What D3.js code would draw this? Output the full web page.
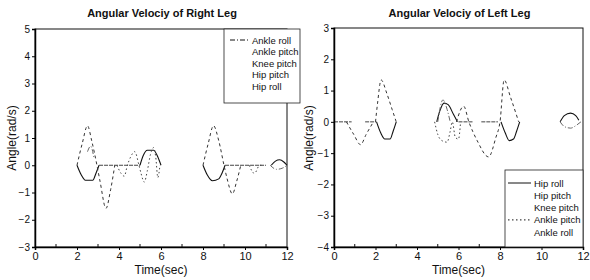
<!DOCTYPE html>
<html>
<head>
<meta charset="utf-8">
<script src="https://cdn.jsdelivr.net/npm/d3@7"></script>
<style>
  body { margin: 0; background: #fff; }
  text { font-family: "Liberation Sans", Arial, sans-serif; fill: #111; }
</style>
</head>
<body>
<div id="chart"></div>
<script>
// series, [time (s), angular velocity (rad/s)], null = gap
var seriesNames = ["Hip roll", "Hip pitch", "Knee pitch", "Ankle pitch", "Ankle roll"];

var rightHipRoll = [[2.0,0],[2.2,-0.35],[2.4,-0.55],[2.75,-0.55],[2.9,-0.3],[3.05,0],null,
  [5.0,0],[5.15,0.35],[5.35,0.55],[5.65,0.55],[5.85,0.3],[6.0,0],null,
  [8.0,0],[8.2,-0.35],[8.45,-0.57],[8.75,-0.5],[8.9,-0.3],[9.05,0],null,
  [11.25,0],[11.45,0.15],[11.65,0.2],[11.85,0.12],[12.0,0]];
var rightHipPitch = [[3.05,0],[5.0,0],null,[9.05,0],[11.0,0]];
var rightKneePitch = [[2.0,0],[2.25,0.8],[2.5,1.45],[2.7,0.9],[2.95,0],[3.1,-0.6],[3.38,-1.58],[3.6,-0.9],[3.8,0],null,
  [8.0,0],[8.25,0.8],[8.5,1.45],[8.75,0.9],[9.0,0],[9.15,-0.5],[9.4,-1.05],[9.6,-0.6],[9.8,0]];
var rightAnklePitch = [[3.9,0],[4.1,-0.3],[4.25,-0.4],[4.4,0],[4.55,0.3],[4.75,0.5],[4.95,0],[5.05,-0.3],[5.2,-0.62],[5.35,-0.2],
  [5.5,0.4],[5.65,0.65],[5.75,0.3],[5.85,-0.45],[5.95,0],null,
  [10.2,0],[10.45,-0.3],[10.7,0],[10.9,0]];
var rightAnkleRoll = [[2.5,0.5],[2.65,0.7],[2.8,0.3],null,[11.2,0],[11.5,-0.15],[11.8,-0.1],[12.0,0]];

var leftHipRoll = [[2.05,0],[2.25,-0.35],[2.45,-0.55],[2.7,-0.55],[2.85,-0.3],[3.0,0],null,
  [4.95,0],[5.1,0.35],[5.3,0.6],[5.5,0.55],[5.75,0.25],[5.95,0],null,
  [8.05,0],[8.25,-0.35],[8.45,-0.6],[8.65,-0.55],[8.8,-0.3],[8.95,0],null,
  [10.9,0],[11.1,0.2],[11.4,0.28],[11.65,0.2],[11.8,0.05]];
var leftHipPitch = [[0,0],[0.85,0],null,[1.5,0],[2.05,0],null,[6.0,0],[6.7,0],null,[7.1,0],[7.9,0]];
var leftKneePitch = [[0.6,0],[0.95,-0.4],[1.28,-0.73],[1.55,-0.4],[1.9,0],null,
  [2.0,0],[2.1,0.6],[2.27,1.34],[2.55,0.9],[2.8,0.4],[3.0,0],null,
  [5.9,0],[6.25,0.5],[6.5,0],[6.9,-0.6],[7.45,-1.12],[7.8,-0.5],[8.0,0],[8.2,1.34],[8.5,0.8],[8.9,0]];
var leftAnklePitch = [[4.85,0],[5.0,-0.4],[5.2,-0.6],[5.45,-0.65],[5.6,-0.3],[5.7,0],[5.85,-0.5],[6.0,-0.55],[6.1,0]];
var leftAnkleRoll = [[5.0,0],[5.25,0.7],[5.45,0.4],[5.6,0],null,[10.9,0],[11.1,-0.15],[11.4,-0.2],[11.7,-0.1],[11.9,0]];

var xTicks = [0, 2, 4, 6, 8, 10, 12];
var rightYTicks = [-3, -2, -1, 0, 1, 2, 3, 4, 5];
var leftYTicks = [-4, -3, -2, -1, 0, 1, 2, 3];

var styles = {
  "Hip roll":    {dash: null,      color: "#111", width: 1.1},
  "Hip pitch":   {dash: "4,1",     color: "#444", width: 1},
  "Knee pitch":  {dash: "3,3",     color: "#333", width: 1},
  "Ankle pitch": {dash: "1.5,2.5", color: "#444", width: 1},
  "Ankle roll":  {dash: "5,2,1,2", color: "#666", width: 1}
};

var svg = d3.select("#chart").append("svg")
    .attr("width", 590)
    .attr("height", 280);

function drawPanel(cfg) {
  var x = d3.scaleLinear().domain([0, 12]).range([cfg.left, cfg.right]);
  var y = d3.scaleLinear().domain(cfg.yDomain).range([247, cfg.top]);
  var g = svg.append("g");

  // curves
  var line = d3.line()
      .defined(function (d) { return d !== null; })
      .x(function (d) { return x(d[0]); })
      .y(function (d) { return y(d[1]); })
      .curve(d3.curveMonotoneX);

  cfg.series.forEach(function (s) {
    var st = styles[s.name];
    g.append("path")
      .datum(s.data)
      .attr("d", line)
      .attr("fill", "none")
      .attr("stroke", st.color)
      .attr("stroke-width", st.width)
      .attr("stroke-dasharray", st.dash);
  });

  // frame
  g.append("rect")
    .attr("x", cfg.left).attr("y", cfg.top)
    .attr("width", cfg.right - cfg.left).attr("height", 247 - cfg.top)
    .attr("fill", "none").attr("stroke", "#111").attr("stroke-width", 1);

  // axes
  var xAxis = d3.axisBottom(x).tickValues(xTicks).tickSize(3).tickPadding(2).tickFormat(d3.format("d"));
  var gx = g.append("g").attr("transform", "translate(0,247)").call(xAxis);
  gx.select(".domain").attr("stroke-width", 1.5);
  gx.selectAll("text").attr("font-size", 11).attr("font-family", "Liberation Sans, Arial, sans-serif");
  // minor ticks pointing inward
  g.selectAll(".minor").data(d3.range(1, 12, 2)).enter().append("line")
    .attr("x1", function (d) { return x(d); }).attr("x2", function (d) { return x(d); })
    .attr("y1", 247).attr("y2", 244).attr("stroke", "#111");

  var yAxis = d3.axisLeft(y).tickValues(cfg.yTicks).tickSize(3).tickPadding(2).tickFormat(d3.format("d"));
  var gy = g.append("g").attr("transform", "translate(" + cfg.left + ",0)").call(yAxis);
  gy.select(".domain").attr("stroke-width", 1.5);
  gy.selectAll("text").attr("font-size", 10).attr("font-family", "Liberation Sans, Arial, sans-serif");

  // titles
  g.append("text")
    .attr("x", (cfg.left + cfg.right) / 2 + 1).attr("y", 17)
    .attr("text-anchor", "middle").attr("font-size", 11).attr("font-weight", "bold")
    .text(cfg.title);
  g.append("text")
    .attr("x", (cfg.left + cfg.right) / 2).attr("y", 274)
    .attr("text-anchor", "middle").attr("font-size", 12)
    .text("Time(sec)");
  g.append("text")
    .attr("transform", "translate(" + cfg.yLabelX + ",138) rotate(-90)")
    .attr("text-anchor", "middle").attr("font-size", 12)
    .text("Angle(rad/s)");

  // legend
  var lg = cfg.legend;
  var leg = g.append("g");
  leg.append("rect")
    .attr("x", lg.x).attr("y", lg.y).attr("width", lg.w).attr("height", lg.h)
    .attr("fill", "#fff").attr("stroke", "#222").attr("stroke-width", 0.8);
  lg.order.forEach(function (name, i) {
    var st = styles[name];
    var yy = lg.y + lg.first + i * lg.step;
    if (lg.samples.indexOf(name) >= 0) {
      leg.append("line")
        .attr("x1", lg.x + lg.sx0).attr("x2", lg.x + lg.sx1)
        .attr("y1", yy).attr("y2", yy)
        .attr("stroke", "#111").attr("stroke-width", 1)
        .attr("stroke-dasharray", st.dash);
    }
    leg.append("text")
      .attr("x", lg.x + lg.tx).attr("y", yy + 3.5)
      .attr("font-size", 9.5)
      .text(name);
  });
}

drawPanel({
  left: 35, right: 287, top: 29,
  yDomain: [-3, 5], yTicks: rightYTicks,
  yLabelX: 16,
  title: "Angular Velociy of Right Leg",
  series: [
    {name: "Hip roll", data: rightHipRoll},
    {name: "Hip pitch", data: rightHipPitch},
    {name: "Knee pitch", data: rightKneePitch},
    {name: "Ankle pitch", data: rightAnklePitch},
    {name: "Ankle roll", data: rightAnkleRoll}
  ],
  legend: {x: 224, y: 29, w: 76, h: 74, first: 11, step: 11.5, sx0: 6, sx1: 24, tx: 28,
           order: seriesNames.slice().reverse(), samples: ["Ankle roll"]}
});

drawPanel({
  left: 334, right: 583, top: 28,
  yDomain: [-4, 3], yTicks: leftYTicks,
  yLabelX: 313,
  title: "Angular Velociy of Left Leg",
  series: [
    {name: "Hip roll", data: leftHipRoll},
    {name: "Hip pitch", data: leftHipPitch},
    {name: "Knee pitch", data: leftKneePitch},
    {name: "Ankle pitch", data: leftAnklePitch},
    {name: "Ankle roll", data: leftAnkleRoll}
  ],
  legend: {x: 505, y: 170, w: 78, h: 77, first: 13, step: 12.3, sx0: 3, sx1: 26, tx: 29,
           order: seriesNames, samples: ["Hip roll", "Ankle pitch"]}
});
</script>
</body>
</html>
